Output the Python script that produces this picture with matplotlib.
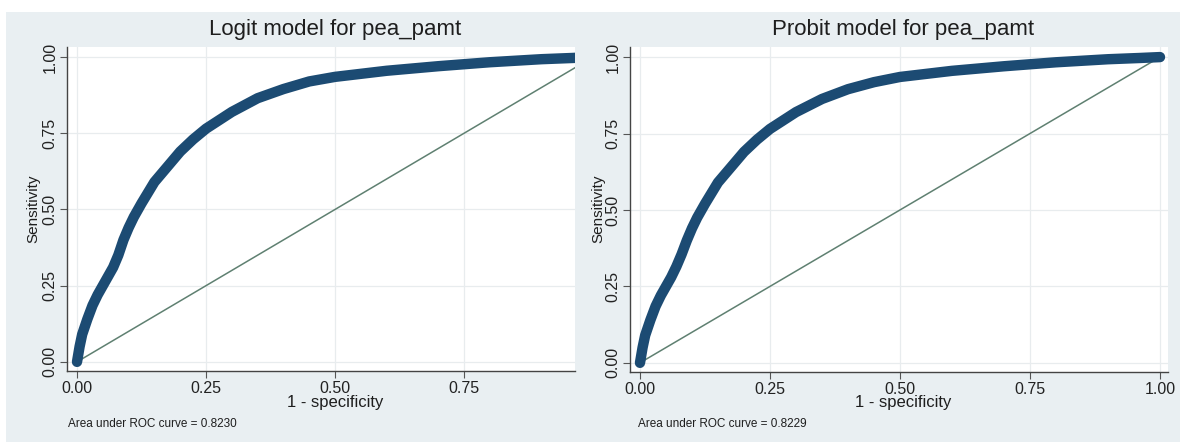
import numpy as np
import matplotlib.pyplot as plt
from matplotlib.patches import Rectangle

# ROC points (1 - specificity, sensitivity)
logit_fpr  = [0.0, 0.005, 0.01, 0.02, 0.03, 0.04, 0.05, 0.06, 0.07, 0.08, 0.09, 0.10, 0.11, 0.125,
              0.15, 0.175, 0.20, 0.225, 0.25, 0.30, 0.35, 0.40, 0.45, 0.50, 0.60, 0.70, 0.80, 0.90,
              0.96, 1.0]
logit_tpr  = [0.0, 0.05, 0.09, 0.14, 0.185, 0.22, 0.25, 0.28, 0.31, 0.35, 0.40, 0.44, 0.475, 0.52,
              0.59, 0.64, 0.69, 0.73, 0.765, 0.82, 0.865, 0.895, 0.92, 0.935, 0.955, 0.97, 0.983,
              0.993, 0.997, 1.0]
probit_fpr = [0.0, 0.005, 0.01, 0.02, 0.03, 0.04, 0.05, 0.06, 0.07, 0.08, 0.09, 0.10, 0.11, 0.125,
              0.15, 0.175, 0.20, 0.225, 0.25, 0.30, 0.35, 0.40, 0.45, 0.50, 0.60, 0.70, 0.80, 0.90,
              0.96, 1.0]
probit_tpr = [0.0, 0.05, 0.09, 0.14, 0.185, 0.22, 0.25, 0.28, 0.315, 0.355, 0.40, 0.44, 0.475, 0.52,
              0.59, 0.64, 0.69, 0.73, 0.765, 0.82, 0.863, 0.895, 0.918, 0.935, 0.955, 0.97, 0.983,
              0.993, 0.997, 1.0]

titles = ['Logit model for pea_pamt', 'Probit model for pea_pamt']
auc_labels = ['Area under ROC curve = 0.8230', 'Area under ROC curve = 0.8229']
ticks = [0.0, 0.25, 0.5, 0.75, 1.0]
tick_labels = ['0.00', '0.25', '0.50', '0.75', '1.00']

plt.rcParams['font.family'] = ['Liberation Sans', 'DejaVu Sans']
W, H = 1180, 442
fig = plt.figure(figsize=(W / 100, H / 100), dpi=100, facecolor='white')
bg = '#e9eff2'
fig.patches.append(Rectangle((6 / W, 0), 1 - 6 / W, 1 - 12 / H, transform=fig.transFigure,
                             facecolor=bg, edgecolor='none', zorder=-10))

def px(l, t, r, b):
    return [l / W, 1 - b / H, (r - l) / W, (b - t) / H]

# axes boxes in pixels and x-limits (left panel is cropped on the right)
boxes = [px(67, 47, 575, 371), px(630, 47, 1168, 372)]
xlims = [(-0.0194, 0.965), (-0.0192, 1.0154)]
data = [(logit_fpr, logit_tpr), (probit_fpr, probit_tpr)]
title_x = [335, 903]
xlabel_x = [335, 903]
note_x = [68, 638]
ylabel_x = [33, 598]

for i in range(2):
    ax = fig.add_axes(boxes[i])
    ax.set_facecolor('white')
    fpr, tpr = data[i]
    ax.plot([0, 1], [0, 1], color='#5f8071', lw=1.1, zorder=2)
    ax.plot(fpr, tpr, color='#1c4b73', lw=7.5, solid_capstyle='round',
            solid_joinstyle='round', zorder=3)
    ax.set_xticks(ticks)
    ax.set_xticklabels(tick_labels, fontsize=11.5, color='#222222')
    ax.set_yticks(ticks)
    ax.set_yticklabels(tick_labels, fontsize=11.5, color='#222222', rotation=90, va='center')
    ax.set_xlim(*xlims[i])
    ax.set_ylim(-0.03, 1.033)
    ax.tick_params(length=5, width=0.8, color='#555555', pad=2)
    ax.grid(True, color='#e8ecee', lw=0.9)
    ax.set_axisbelow(True)
    for s in ['top', 'right']:
        ax.spines[s].set_visible(False)
    for s in ['left', 'bottom']:
        ax.spines[s].set_color('#444444')
        ax.spines[s].set_linewidth(1.0)
    fig.text(title_x[i] / W, 1 - 30 / H, titles[i], fontsize=16, color='#1e1e1e',
             ha='center', va='center')
    fig.text(xlabel_x[i] / W, 1 - 403 / H, '1 - specificity', fontsize=12,
             color='#1e1e1e', ha='center', va='center')
    fig.text(ylabel_x[i] / W, 1 - 209 / H, 'Sensitivity', fontsize=11,
             color='#1e1e1e', ha='center', va='center', rotation=90)
    fig.text(note_x[i] / W, 1 - 424 / H, auc_labels[i], fontsize=8.5,
             color='#1e1e1e', ha='left', va='center')

fig.savefig('out.png', dpi=100, facecolor=fig.get_facecolor())
